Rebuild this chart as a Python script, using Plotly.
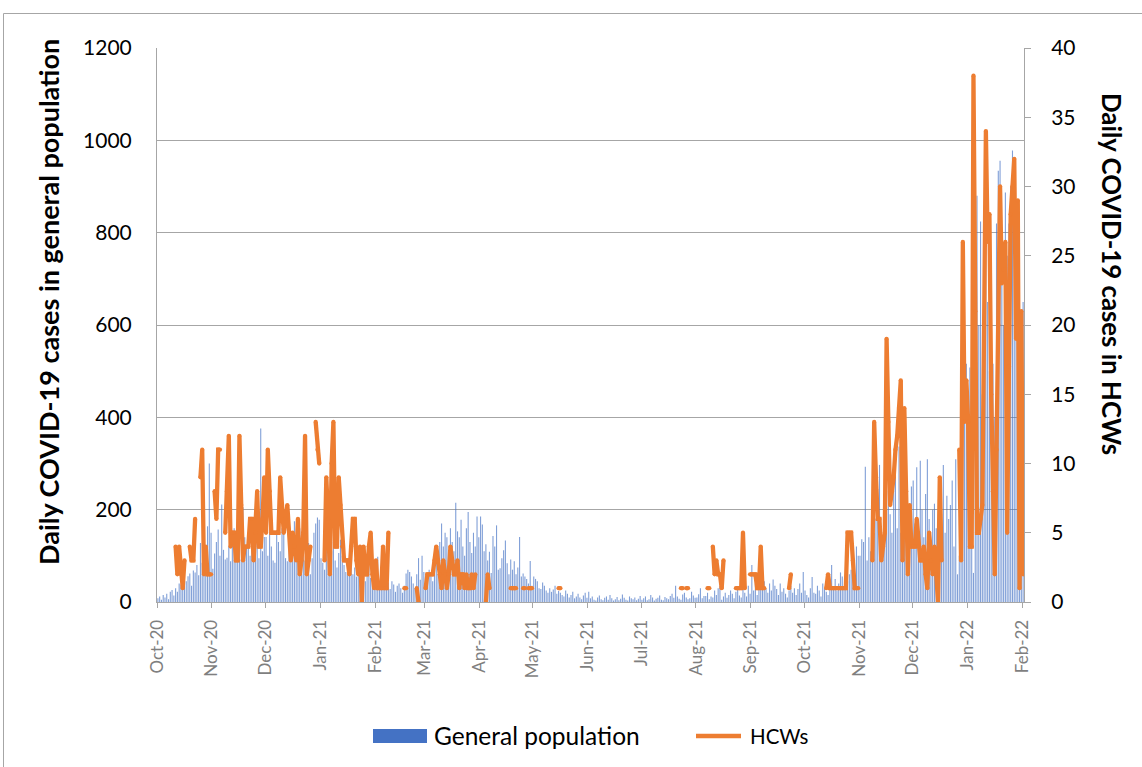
import datetime as dt
import plotly.graph_objects as go

# ---------------- data ----------------
month_starts = ["2020-10", "2020-11", "2020-12", "2021-01", "2021-02", "2021-03",
                "2021-04", "2021-05", "2021-06", "2021-07", "2021-08", "2021-09",
                "2021-10", "2021-11", "2021-12", "2022-01", "2022-02"]

# Daily COVID-19 cases in the general population (left axis), one list per month
gp_oct20 = [8, 12, 5, 15, 10, 18, 6, 22, 26, 14, 30, 22, 40, 38, 55, 58, 45, 56, 62, 35, 68, 64, 80, 58, 128, 85, 140, 95, 164, 300, 150]
gp_nov20 = [72, 105, 130, 157, 100, 211, 113, 92, 96, 120, 88, 136, 160, 110, 118, 125, 92, 205, 140, 118, 125, 100, 150, 132, 118, 128, 95, 376, 110, 141]
gp_dec20 = [141, 100, 175, 120, 90, 85, 155, 130, 110, 160, 178, 95, 88, 140, 150, 120, 175, 130, 100, 160, 145, 120, 90, 178, 128, 60, 95, 150, 170, 183, 178]
gp_jan21 = [95, 85, 70, 120, 140, 135, 110, 130, 90, 75, 106, 135, 100, 80, 65, 92, 70, 85, 60, 75, 55, 68, 50, 72, 80, 45, 60, 98, 52, 40, 70]
gp_feb21 = [60, 98, 45, 40, 35, 52, 30, 42, 28, 45, 38, 22, 35, 40, 30, 20, 35, 62, 70, 65, 55, 40, 30, 60, 95, 48, 100, 65]
gp_mar21 = [55, 40, 70, 62, 45, 80, 92, 60, 130, 170, 120, 150, 140, 95, 160, 130, 110, 215, 153, 140, 178, 120, 100, 160, 195, 130, 106, 150, 120, 185, 140]
gp_apr21 = [185, 168, 110, 125, 90, 109, 63, 143, 120, 166, 70, 73, 95, 112, 133, 84, 60, 92, 70, 88, 60, 75, 141, 55, 62, 55, 50, 40, 89, 35]
gp_may21 = [55, 50, 45, 30, 28, 42, 35, 25, 20, 30, 22, 27, 35, 18, 24, 20, 15, 12, 25, 18, 10, 15, 22, 8, 12, 18, 10, 6, 14, 20, 9]
gp_jun21 = [22, 8, 12, 5, 3, 10, 14, 6, 4, 9, 12, 5, 15, 8, 3, 6, 11, 4, 7, 16, 9, 5, 3, 12, 8, 6, 10, 4, 7, 13]
gp_jul21 = [5, 8, 12, 4, 6, 15, 10, 3, 7, 9, 14, 5, 4, 11, 8, 6, 13, 18, 9, 35, 12, 7, 5, 16, 20, 10, 6, 8, 22, 14, 9]
gp_aug21 = [10, 17, 30, 8, 13, 13, 20, 6, 12, 10, 25, 15, 30, 35, 5, 12, 20, 9, 15, 25, 18, 8, 22, 30, 14, 10, 28, 20, 12, 35, 18]
gp_sep21 = [80, 25, 40, 15, 30, 89, 55, 45, 30, 20, 40, 25, 49, 35, 28, 15, 40, 22, 30, 18, 10, 25, 35, 20, 30, 15, 28, 40, 20, 65]
gp_oct21 = [25, 15, 10, 30, 54, 20, 18, 35, 25, 12, 40, 30, 22, 15, 45, 80, 30, 50, 25, 40, 64, 55, 30, 76, 45, 60, 70, 92, 55, 120, 100]
gp_nov21 = [100, 136, 130, 293, 90, 140, 110, 160, 150, 180, 245, 297, 140, 120, 160, 200, 241, 190, 150, 278, 287, 160, 337, 150, 230, 180, 323, 130, 200, 250]
gp_dec21 = [263, 170, 292, 150, 306, 200, 140, 234, 309, 180, 120, 200, 213, 160, 100, 240, 190, 297, 150, 230, 180, 210, 263, 120, 309, 60, 100, 150, 380, 465, 516]
gp_jan22 = [395, 508, 300, 63, 700, 880, 600, 824, 450, 560, 775, 650, 500, 722, 516, 400, 820, 934, 956, 700, 600, 887, 750, 820, 900, 978, 850, 700, 500, 560, 620]
gp_feb22 = [650]

# Daily COVID-19 cases in HCWs (right axis); None = no value (gap in line)
hcw_oct20 = [None, None, None, None, None, None, None, None, None, None, 4, 2, 4, 2, 1, 3, None, None, 4, 3, 3, 6, None, None, 9, 11, 2, 4, 2, 2, 2]
hcw_nov20 = [None, 8, 6, 11, 11, None, None, 5, 8, 12, 4, 5, 5, 3, 3, 12, 7, 3, 4, 4, 4, 6, 6, 3, 5, 8, 4, 4, 6, 9]
hcw_dec20 = [5, 11, 8, 5, 5, 5, 5, 5, 9, 7, 5, 6, 7, 5, 3, 5, 4, 3, 6, 2, 3, 5, 12, 2, 3, 4, None, None, 13, 11, 10]
hcw_jan21 = [None, None, 3, 9, 6, 2, 10, 13, 4, 4, 9, 7, 4, 3, 3, 3, 2, 4, 6, 6, 3, 2, 4, 0, 4, 2, 2, 4, 5, 2, 1]
hcw_feb21 = [3, 1, 1, 1, 4, 1, 1, 5, None, None, None, None, None, None, None, None, 1, 1, None, None, None, None, None, 1, 0, None, None, None]
hcw_mar21 = [1, 2, 2, 2, 2, 3, 4, 3, 2, 1, 3, 2, 1, 2, 4, 3, 2, 2, 3, 1, 2, 2, 1, 2, 1, 1, 2, 1, 2, None, None]
hcw_apr21 = [None, None, None, 0, 2, 1, None, None, None, None, None, None, None, None, None, None, None, 1, 1, 1, 1, None, None, None, 1, 1, None, 1, 1, 1]
hcw_may21 = [None, None, None, None, None, None, None, None, None, None, None, None, None, None, 1, 1, None, None, None, None, None, None, None, None, None, None, None, None, None, None, None]
hcw_jun21 = [None, None, None, None, None, None, None, None, None, None, None, None, None, None, None, None, None, None, None, None, None, None, None, None, None, None, None, None, None, None]
hcw_jul21 = [None, None, None, None, None, None, None, None, None, None, None, None, None, None, None, None, None, None, None, None, None, None, 1, 1, None, 1, 1, None, None, None, None]
hcw_aug21 = [None, None, None, None, None, None, 1, 1, None, 4, 2, 3, 2, 2, 1, 3, None, None, None, None, None, None, 1, 1, 1, 1, 5, 1, None, None, 2]
hcw_sep21 = [2, 2, 2, 1, 1, 4, 1, 1, None, None, None, None, None, None, None, None, None, None, None, None, None, 1, 2, None, None, None, None, None, None, None]
hcw_oct21 = [None, None, None, None, None, None, None, None, None, None, None, None, 1, 2, 1, 1, 1, 1, 1, 1, 1, 1, 1, 1, 5, 5, 5, 3, 1, 1, 1]
hcw_nov21 = [None, None, None, None, None, None, None, 3, 13, 9, 6, 6, 3, 4, 5, 19, 13, 7, 8, 9, 11, 12, 14, 16, 3, 14, 8, 2, 7, 4]
hcw_dec21 = [4, 4, 6, 4, 3, 3, 4, 2, 1, 5, 3, 2, 4, 2, 0, 9, 3, None, None, None, None, None, None, None, None, None, 11, 3, 26, 13, 16]
hcw_jan22 = [13, 4, 4, 38, 21, 5, 5, 6, 7, 20, 34, 26, 28, 15, 8, 2, 11, 20, 30, 23, 24, 26, 5, 17, 28, 30, 32, 19, 29, 1, 21]
hcw_feb22 = [2]

gp_months = [gp_oct20, gp_nov20, gp_dec20, gp_jan21, gp_feb21, gp_mar21, gp_apr21, gp_may21,
             gp_jun21, gp_jul21, gp_aug21, gp_sep21, gp_oct21, gp_nov21, gp_dec21, gp_jan22, gp_feb22]
hcw_months = [hcw_oct20, hcw_nov20, hcw_dec20, hcw_jan21, hcw_feb21, hcw_mar21, hcw_apr21, hcw_may21,
              hcw_jun21, hcw_jul21, hcw_aug21, hcw_sep21, hcw_oct21, hcw_nov21, hcw_dec21, hcw_jan22, hcw_feb22]

legend_labels = ["General population", "HCWs"]


def expand(month_lists):
    xs, ys = [], []
    for ms, vals in zip(month_starts, month_lists):
        y, m = map(int, ms.split("-"))
        start = dt.datetime(y, m, 1, 12)  # value centred in its day slot
        for i, v in enumerate(vals):
            xs.append(start + dt.timedelta(days=i))
            ys.append(v)
    return xs, ys


gp_x, gp_y = expand(gp_months)
hcw_x, hcw_y = expand(hcw_months)

# ---------------- figure ----------------
FONT = "Lato, 'Open Sans', Arial, sans-serif"
BLUE = "#4472C4"
ORANGE = "#ED7D31"
GRID = "#A6A6A6"
L, R, T, B = 157, 1024, 48, 602
W, H = 1142, 767


def px_x(p):
    return (p - L) / (R - L)


def px_y(p):
    return (B - p) / (B - T)


fig = go.Figure()
fig.add_trace(go.Bar(
    x=gp_x, y=gp_y, name=legend_labels[0],
    marker=dict(color="rgba(68,114,196,0.68)", line=dict(width=0)),
    yaxis="y", showlegend=False,
))
fig.add_trace(go.Scatter(
    x=hcw_x, y=hcw_y, name=legend_labels[1], mode="lines+markers",
    line=dict(color=ORANGE, width=4.3),
    marker=dict(color=ORANGE, size=4.3, line=dict(width=0)),
    connectgaps=False, yaxis="y2", showlegend=False,
))

fig.update_layout(
    width=W, height=H,
    margin=dict(l=L, r=W - R, t=T, b=H - B, autoexpand=False),
    paper_bgcolor="white", plot_bgcolor="white",
    font=dict(family=FONT, color="black"),
    bargap=0.38,
    showlegend=False,
    hovermode=False,
    xaxis=dict(
        type="date", range=["2020-10-01", "2022-02-02"],
        tick0="2020-10-01", dtick="M1", tickformat="%b-%y", tickangle=-90,
        ticks="outside", ticklen=5, tickcolor=GRID,
        tickfont=dict(size=17, color="#7F7F7F", family=FONT),
        showgrid=False, showline=True, linecolor=GRID, linewidth=1,
        zeroline=False, ticklabelstandoff=5,
    ),
    yaxis=dict(
        range=[0, 1200], dtick=200, showgrid=True, gridcolor=GRID, gridwidth=1,
        showline=True, linecolor=GRID, linewidth=1, zeroline=False,
        ticks="", tickfont=dict(size=21, color="black", family=FONT),
        ticklabelstandoff=20,
    ),
    yaxis2=dict(
        range=[0, 40], dtick=5, overlaying="y", side="right", showgrid=False,
        showline=True, linecolor=GRID, linewidth=1, zeroline=False,
        ticks="outside", ticklen=6, tickcolor=GRID,
        tickfont=dict(size=21, color="black", family=FONT),
        ticklabelstandoff=16,
    ),
    annotations=[
        dict(text="<b>Daily COVID-19 cases in general population</b>", xref="paper", yref="paper",
             x=px_x(48), y=px_y(302), textangle=-90, showarrow=False,
             xanchor="center", yanchor="middle", font=dict(size=27, family=FONT, color="black")),
        dict(text="<b>Daily COVID-19 cases in HCWs</b>", xref="paper", yref="paper",
             x=px_x(1112), y=px_y(274), textangle=90, showarrow=False,
             xanchor="center", yanchor="middle", font=dict(size=25.8, family=FONT, color="black")),
        # legend texts
        dict(text=legend_labels[0], xref="paper", yref="paper",
             x=px_x(432), y=px_y(736), xanchor="left", yanchor="middle", showarrow=False,
             font=dict(size=24.5, family=FONT, color="black")),
        dict(text=legend_labels[1], xref="paper", yref="paper",
             x=px_x(748), y=px_y(736), xanchor="left", yanchor="middle", showarrow=False,
             font=dict(size=20.5, family=FONT, color="black")),
    ],
    shapes=[
        dict(type="rect", xref="paper", yref="paper", layer="below",
             x0=px_x(3.5), x1=px_x(1160), y0=px_y(790), y1=px_y(13.5),
             line=dict(color=GRID, width=1), fillcolor="rgba(0,0,0,0)"),
        # legend symbols
        dict(type="rect", xref="paper", yref="paper",
             x0=px_x(373), x1=px_x(427), y0=px_y(743), y1=px_y(729),
             line=dict(width=0), fillcolor=BLUE),
        dict(type="line", xref="paper", yref="paper",
             x0=px_x(696), x1=px_x(741), y0=px_y(736), y1=px_y(736),
             line=dict(color=ORANGE, width=4.5)),
    ],
)

fig.write_html("out.html", config={"displayModeBar": False},
               post_script="document.body.style.margin='0px';document.body.style.padding='0px';")
